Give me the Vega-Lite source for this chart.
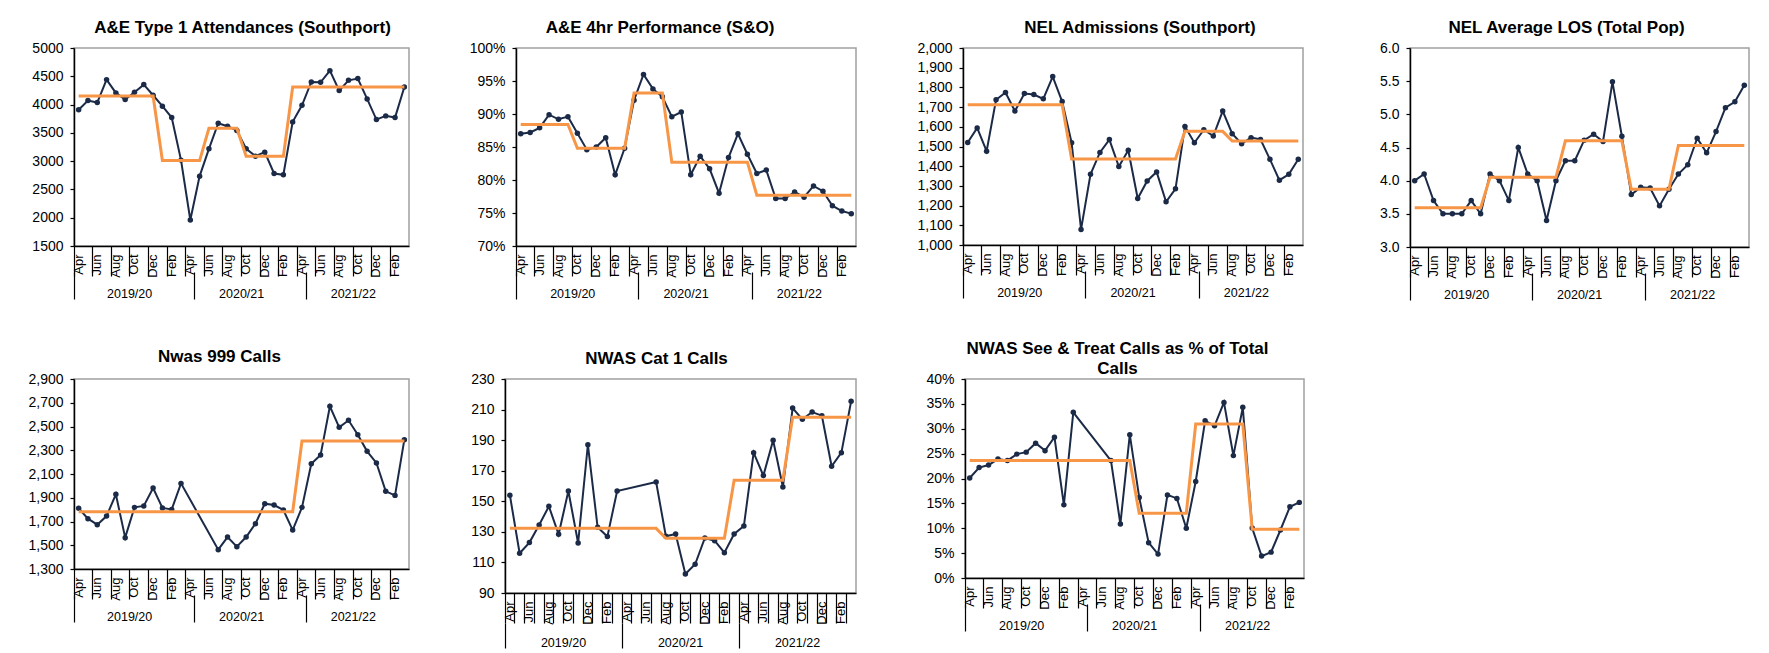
{
 "$schema": "https://vega.github.io/schema/vega-lite/v6.json",
 "padding": {"left": 27, "top": 18, "right": 5, "bottom": 5},
 "background": "white",
 "datasets": {"d": [
  {"k":0,"fy":"2019/20","ae":3910,"ae_m":4150,"perf":0.870,"perf_m":0.884,"nel":1520,"nel_m":1712,"los":4.00,"los_m":3.59,"c999":1811,"c999_m":1783,"cat1":154,"cat1_m":132.3,"st":0.201,"st_m":0.236},
  {"k":1,"fy":"2019/20","ae":4070,"ae_m":4150,"perf":0.872,"perf_m":0.884,"nel":1594,"nel_m":1712,"los":4.10,"los_m":3.59,"c999":1724,"c999_m":1783,"cat1":116,"cat1_m":132.3,"st":0.222,"st_m":0.236},
  {"k":2,"fy":"2019/20","ae":4035,"ae_m":4150,"perf":0.879,"perf_m":0.884,"nel":1476,"nel_m":1712,"los":3.70,"los_m":3.59,"c999":1673,"c999_m":1783,"cat1":123,"cat1_m":132.3,"st":0.227,"st_m":0.236},
  {"k":3,"fy":"2019/20","ae":4441,"ae_m":4150,"perf":0.899,"perf_m":0.884,"nel":1737,"nel_m":1712,"los":3.50,"los_m":3.59,"c999":1746,"c999_m":1783,"cat1":134.5,"cat1_m":132.3,"st":0.239,"st_m":0.236},
  {"k":4,"fy":"2019/20","ae":4206,"ae_m":4150,"perf":0.892,"perf_m":0.884,"nel":1774,"nel_m":1712,"los":3.50,"los_m":3.59,"c999":1929,"c999_m":1783,"cat1":146.7,"cat1_m":132.3,"st":0.236,"st_m":0.236},
  {"k":5,"fy":"2019/20","ae":4088,"ae_m":4150,"perf":0.896,"perf_m":0.884,"nel":1680,"nel_m":1712,"los":3.50,"los_m":3.59,"c999":1564,"c999_m":1783,"cat1":128.4,"cat1_m":132.3,"st":0.249,"st_m":0.236},
  {"k":6,"fy":"2019/20","ae":4218,"ae_m":4150,"perf":0.871,"perf_m":0.848,"nel":1769,"nel_m":1712,"los":3.70,"los_m":3.59,"c999":1819,"c999_m":1783,"cat1":156.7,"cat1_m":132.3,"st":0.253,"st_m":0.236},
  {"k":7,"fy":"2019/20","ae":4353,"ae_m":4150,"perf":0.846,"perf_m":0.848,"nel":1764,"nel_m":1712,"los":3.50,"los_m":3.59,"c999":1831,"c999_m":1783,"cat1":122.7,"cat1_m":132.3,"st":0.271,"st_m":0.236},
  {"k":8,"fy":"2019/20","ae":4165,"ae_m":4150,"perf":0.850,"perf_m":0.848,"nel":1742,"nel_m":1712,"los":4.10,"los_m":4.05,"c999":1982,"c999_m":1783,"cat1":187,"cat1_m":132.3,"st":0.256,"st_m":0.236},
  {"k":9,"fy":"2019/20","ae":3971,"ae_m":3010,"perf":0.864,"perf_m":0.848,"nel":1855,"nel_m":1712,"los":4.00,"los_m":4.05,"c999":1814,"c999_m":1783,"cat1":133,"cat1_m":132.3,"st":0.283,"st_m":0.236},
  {"k":10,"fy":"2019/20","ae":3771,"ae_m":3010,"perf":0.808,"perf_m":0.848,"nel":1728,"nel_m":1712,"los":3.70,"los_m":4.05,"c999":1802,"c999_m":1783,"cat1":126.9,"cat1_m":132.3,"st":0.147,"st_m":0.236},
  {"k":11,"fy":"2019/20","ae":3018,"ae_m":3010,"perf":0.848,"perf_m":0.848,"nel":1519,"nel_m":1437,"los":4.50,"los_m":4.05,"c999":2021,"c999_m":1783,"cat1":156.7,"cat1_m":132.3,"st":0.333,"st_m":0.236},
  {"k":12,"fy":"2020/21","ae":1960,"ae_m":3010,"perf":0.921,"perf_m":0.932,"nel":1079,"nel_m":1437,"los":4.10,"los_m":4.05,"c999":null,"c999_m":1783,"cat1":null,"cat1_m":132.3,"st":null,"st_m":0.236},
  {"k":13,"fy":"2020/21","ae":2735,"ae_m":3010,"perf":0.960,"perf_m":0.932,"nel":1359,"nel_m":1437,"los":4.00,"los_m":4.05,"c999":null,"c999_m":1783,"cat1":null,"cat1_m":132.3,"st":null,"st_m":0.236},
  {"k":14,"fy":"2020/21","ae":3218,"ae_m":3580,"perf":0.938,"perf_m":0.932,"nel":1470,"nel_m":1437,"los":3.40,"los_m":4.05,"c999":null,"c999_m":1783,"cat1":null,"cat1_m":132.3,"st":null,"st_m":0.236},
  {"k":15,"fy":"2020/21","ae":3671,"ae_m":3580,"perf":0.926,"perf_m":0.932,"nel":1535,"nel_m":1437,"los":4.00,"los_m":4.05,"c999":1463,"c999_m":1783,"cat1":162.6,"cat1_m":132.3,"st":0.236,"st_m":0.236},
  {"k":16,"fy":"2020/21","ae":3618,"ae_m":3580,"perf":0.896,"perf_m":0.827,"nel":1398,"nel_m":1437,"los":4.30,"los_m":4.60,"c999":1569,"c999_m":1783,"cat1":127.1,"cat1_m":125.8,"st":0.1085,"st_m":0.236},
  {"k":17,"fy":"2020/21","ae":3541,"ae_m":3580,"perf":0.903,"perf_m":0.827,"nel":1481,"nel_m":1437,"los":4.30,"los_m":4.60,"c999":1488,"c999_m":1783,"cat1":128.6,"cat1_m":125.8,"st":0.288,"st_m":0.236},
  {"k":18,"fy":"2020/21","ae":3218,"ae_m":3085,"perf":0.808,"perf_m":0.827,"nel":1236,"nel_m":1437,"los":4.61,"los_m":4.60,"c999":1569,"c999_m":1783,"cat1":102.4,"cat1_m":125.8,"st":0.162,"st_m":0.130},
  {"k":19,"fy":"2020/21","ae":3088,"ae_m":3085,"perf":0.836,"perf_m":0.827,"nel":1325,"nel_m":1437,"los":4.70,"los_m":4.60,"c999":1682,"c999_m":1783,"cat1":108.8,"cat1_m":125.8,"st":0.071,"st_m":0.130},
  {"k":20,"fy":"2020/21","ae":3159,"ae_m":3085,"perf":0.817,"perf_m":0.827,"nel":1371,"nel_m":1437,"los":4.59,"los_m":4.60,"c999":1850,"c999_m":1783,"cat1":126.0,"cat1_m":125.8,"st":0.048,"st_m":0.130},
  {"k":21,"fy":"2020/21","ae":2782,"ae_m":3085,"perf":0.780,"perf_m":0.827,"nel":1219,"nel_m":1437,"los":5.49,"los_m":4.60,"c999":1839,"c999_m":1783,"cat1":124.2,"cat1_m":125.8,"st":0.167,"st_m":0.130},
  {"k":22,"fy":"2020/21","ae":2759,"ae_m":3085,"perf":0.834,"perf_m":0.827,"nel":1285,"nel_m":1437,"los":4.67,"los_m":4.60,"c999":1797,"c999_m":1783,"cat1":116.4,"cat1_m":125.8,"st":0.160,"st_m":0.130},
  {"k":23,"fy":"2020/21","ae":3694,"ae_m":4310,"perf":0.870,"perf_m":0.827,"nel":1602,"nel_m":1577,"los":3.79,"los_m":3.87,"c999":1628,"c999_m":1783,"cat1":128.6,"cat1_m":163.7,"st":0.100,"st_m":0.130},
  {"k":24,"fy":"2021/22","ae":3988,"ae_m":4310,"perf":0.839,"perf_m":0.827,"nel":1519,"nel_m":1577,"los":3.90,"los_m":3.87,"c999":1819,"c999_m":2378,"cat1":133.8,"cat1_m":163.7,"st":0.194,"st_m":0.3095},
  {"k":25,"fy":"2021/22","ae":4400,"ae_m":4310,"perf":0.810,"perf_m":0.777,"nel":1585,"nel_m":1577,"los":3.89,"los_m":3.87,"c999":2187,"c999_m":2378,"cat1":181.8,"cat1_m":163.7,"st":0.316,"st_m":0.3095},
  {"k":26,"fy":"2021/22","ae":4394,"ae_m":4310,"perf":0.815,"perf_m":0.777,"nel":1553,"nel_m":1577,"los":3.62,"los_m":3.87,"c999":2260,"c999_m":2378,"cat1":166.8,"cat1_m":163.7,"st":0.306,"st_m":0.3095},
  {"k":27,"fy":"2021/22","ae":4600,"ae_m":4310,"perf":0.772,"perf_m":0.777,"nel":1680,"nel_m":1577,"los":3.87,"los_m":3.87,"c999":2670,"c999_m":2378,"cat1":189.9,"cat1_m":163.7,"st":0.353,"st_m":0.3095},
  {"k":28,"fy":"2021/22","ae":4247,"ae_m":4310,"perf":0.772,"perf_m":0.777,"nel":1565,"nel_m":1528,"los":4.10,"los_m":4.53,"c999":2493,"c999_m":2378,"cat1":159.3,"cat1_m":163.7,"st":0.246,"st_m":0.3095},
  {"k":29,"fy":"2021/22","ae":4429,"ae_m":4310,"perf":0.782,"perf_m":0.777,"nel":1514,"nel_m":1528,"los":4.24,"los_m":4.53,"c999":2552,"c999_m":2378,"cat1":211.0,"cat1_m":204.9,"st":0.343,"st_m":0.3095},
  {"k":30,"fy":"2021/22","ae":4459,"ae_m":4310,"perf":0.774,"perf_m":0.777,"nel":1545,"nel_m":1528,"los":4.64,"los_m":4.53,"c999":2431,"c999_m":2378,"cat1":203.6,"cat1_m":204.9,"st":0.1005,"st_m":0.098},
  {"k":31,"fy":"2021/22","ae":4100,"ae_m":4310,"perf":0.791,"perf_m":0.777,"nel":1536,"nel_m":1528,"los":4.42,"los_m":4.53,"c999":2291,"c999_m":2378,"cat1":208.4,"cat1_m":204.9,"st":0.044,"st_m":0.098},
  {"k":32,"fy":"2021/22","ae":3735,"ae_m":4310,"perf":0.783,"perf_m":0.777,"nel":1435,"nel_m":1528,"los":4.74,"los_m":4.53,"c999":2193,"c999_m":2378,"cat1":206.0,"cat1_m":204.9,"st":0.052,"st_m":0.098},
  {"k":33,"fy":"2021/22","ae":3800,"ae_m":4310,"perf":0.761,"perf_m":0.777,"nel":1329,"nel_m":1528,"los":5.10,"los_m":4.53,"c999":1954,"c999_m":2378,"cat1":172.9,"cat1_m":204.9,"st":0.0965,"st_m":0.098},
  {"k":34,"fy":"2021/22","ae":3771,"ae_m":4310,"perf":0.753,"perf_m":0.777,"nel":1359,"nel_m":1528,"los":5.19,"los_m":4.53,"c999":1920,"c999_m":2378,"cat1":181.8,"cat1_m":204.9,"st":0.143,"st_m":0.098},
  {"k":35,"fy":"2021/22","ae":4312,"ae_m":4310,"perf":0.749,"perf_m":0.777,"nel":1435,"nel_m":1528,"los":5.44,"los_m":4.53,"c999":2389,"c999_m":2378,"cat1":215.4,"cat1_m":204.9,"st":0.152,"st_m":0.098}
 ]},
 "data": {"name": "d"},
 "spacing": 37,
 "vconcat": [
  {"hconcat": [
   {"width": 335, "height": 198,
    "title": {"text": "A&E Type 1 Attendances (Southport)", "dx": 1, "offset": 4},
    "layer": [
     {"mark": {"type": "rule", "opacity": 0}, "encoding": {"x": {"field": "k", "type": "ordinal", "title": null, "scale": {"type": "band", "paddingInner": 0, "paddingOuter": 0}, "axis": {"orient": "bottom", "offset": 26, "domain": false, "values": [0,13,25], "labelExpr": "datum.value == 0 ? '2019/20' : datum.value == 13 ? '2020/21' : '2021/22'", "labelOffset": {"condition": {"test": "datum.value == 0", "value": 51}, "value": 42}, "bandPosition": 0, "tickSize": 27, "labelPadding": -12, "labelFontSize": 12.5, "labelAngle": 0, "labelOverlap": false}}}},
     {"layer": [
      {"transform": [{"filter": "isValid(datum.ae)"}], "mark": {"type": "line", "color": "#1b2a47", "strokeWidth": 2, "point": {"filled": true, "size": 30, "color": "#1b2a47"}},
       "encoding": {"x": {"field": "k", "type": "ordinal", "title": null, "scale": {"type": "band", "paddingInner": 0, "paddingOuter": 0}, "axis": {"orient": "bottom", "values": [0,2,4,6,8,10,12,14,16,18,20,22,24,26,28,30,32,34], "labelExpr": "['Apr','May','Jun','Jul','Aug','Sep','Oct','Nov','Dec','Jan','Feb','Mar'][datum.value % 12]", "labelAngle": -90, "labelFontSize": 13, "labelPadding": -22, "tickSize": 30, "bandPosition": 0, "labelOverlap": false}},
        "y": {"field": "ae", "type": "quantitative", "title": null, "scale": {"domain": [1500, 5000], "nice": false, "zero": false}, "axis": {"values": [1500,2000,2500,3000,3500,4000,4500,5000], "tickCount": 50, "format": "d", "labelOverlap": false}}}},
      {"mark": {"type": "line", "color": "#f79646", "strokeWidth": 3}, "encoding": {"x": {"field": "k", "type": "ordinal", "title": null}, "y": {"field": "ae_m", "type": "quantitative", "title": null}}}
     ]}
    ],
    "resolve": {"scale": {"x": "independent"}, "axis": {"x": "independent"}}
   },
   {"width": 340, "height": 198,
    "title": {"text": "A&E 4hr Performance (S&O)", "dx": -26, "offset": 4},
    "layer": [
     {"mark": {"type": "rule", "opacity": 0}, "encoding": {"x": {"field": "k", "type": "ordinal", "title": null, "scale": {"type": "band", "paddingInner": 0, "paddingOuter": 0}, "axis": {"orient": "bottom", "offset": 26, "domain": false, "values": [0,13,25], "labelExpr": "datum.value == 0 ? '2019/20' : datum.value == 13 ? '2020/21' : '2021/22'", "labelOffset": {"condition": {"test": "datum.value == 0", "value": 52}, "value": 42.5}, "bandPosition": 0, "tickSize": 27, "labelPadding": -12, "labelFontSize": 12.5, "labelAngle": 0, "labelOverlap": false}}}},
     {"layer": [
      {"transform": [{"filter": "isValid(datum.perf)"}], "mark": {"type": "line", "color": "#1b2a47", "strokeWidth": 2, "point": {"filled": true, "size": 30, "color": "#1b2a47"}},
       "encoding": {"x": {"field": "k", "type": "ordinal", "title": null, "scale": {"type": "band", "paddingInner": 0, "paddingOuter": 0}, "axis": {"orient": "bottom", "values": [0,2,4,6,8,10,12,14,16,18,20,22,24,26,28,30,32,34], "labelExpr": "['Apr','May','Jun','Jul','Aug','Sep','Oct','Nov','Dec','Jan','Feb','Mar'][datum.value % 12]", "labelAngle": -90, "labelFontSize": 13, "labelPadding": -22, "tickSize": 30, "bandPosition": 0, "labelOverlap": false}},
        "y": {"field": "perf", "type": "quantitative", "title": null, "scale": {"domain": [0.7, 1.0], "nice": false, "zero": false}, "axis": {"values": [0.7,0.75,0.8,0.85,0.9,0.95,1.0], "tickCount": 50, "format": ".0%", "labelOverlap": false}}}},
      {"mark": {"type": "line", "color": "#f79646", "strokeWidth": 3}, "encoding": {"x": {"field": "k", "type": "ordinal", "title": null}, "y": {"field": "perf_m", "type": "quantitative", "title": null}}}
     ]}
    ],
    "resolve": {"scale": {"x": "independent"}, "axis": {"x": "independent"}}
   },
   {"width": 340, "height": 197,
    "title": {"text": "NEL Admissions (Southport)", "dx": 7, "offset": 4},
    "layer": [
     {"mark": {"type": "rule", "opacity": 0}, "encoding": {"x": {"field": "k", "type": "ordinal", "title": null, "scale": {"type": "band", "paddingInner": 0, "paddingOuter": 0}, "axis": {"orient": "bottom", "offset": 26, "domain": false, "values": [0,13,25], "labelExpr": "datum.value == 0 ? '2019/20' : datum.value == 13 ? '2020/21' : '2021/22'", "labelOffset": {"condition": {"test": "datum.value == 0", "value": 52}, "value": 42.5}, "bandPosition": 0, "tickSize": 27, "labelPadding": -12, "labelFontSize": 12.5, "labelAngle": 0, "labelOverlap": false}}}},
     {"layer": [
      {"transform": [{"filter": "isValid(datum.nel)"}], "mark": {"type": "line", "color": "#1b2a47", "strokeWidth": 2, "point": {"filled": true, "size": 30, "color": "#1b2a47"}},
       "encoding": {"x": {"field": "k", "type": "ordinal", "title": null, "scale": {"type": "band", "paddingInner": 0, "paddingOuter": 0}, "axis": {"orient": "bottom", "values": [0,2,4,6,8,10,12,14,16,18,20,22,24,26,28,30,32,34], "labelExpr": "['Apr','May','Jun','Jul','Aug','Sep','Oct','Nov','Dec','Jan','Feb','Mar'][datum.value % 12]", "labelAngle": -90, "labelFontSize": 13, "labelPadding": -22, "tickSize": 30, "bandPosition": 0, "labelOverlap": false}},
        "y": {"field": "nel", "type": "quantitative", "title": null, "scale": {"domain": [1000, 2000], "nice": false, "zero": false}, "axis": {"values": [1000,1100,1200,1300,1400,1500,1600,1700,1800,1900,2000], "tickCount": 50, "format": ",d", "labelOverlap": false}}}},
      {"mark": {"type": "line", "color": "#f79646", "strokeWidth": 3}, "encoding": {"x": {"field": "k", "type": "ordinal", "title": null}, "y": {"field": "nel_m", "type": "quantitative", "title": null}}}
     ]}
    ],
    "resolve": {"scale": {"x": "independent"}, "axis": {"x": "independent"}}
   },
   {"width": 339, "height": 199,
    "title": {"text": "NEL Average LOS (Total Pop)", "dx": -13, "offset": 4},
    "layer": [
     {"mark": {"type": "rule", "opacity": 0}, "encoding": {"x": {"field": "k", "type": "ordinal", "title": null, "scale": {"type": "band", "paddingInner": 0, "paddingOuter": 0}, "axis": {"orient": "bottom", "offset": 26, "domain": false, "values": [0,13,25], "labelExpr": "datum.value == 0 ? '2019/20' : datum.value == 13 ? '2020/21' : '2021/22'", "labelOffset": {"condition": {"test": "datum.value == 0", "value": 52}, "value": 42.5}, "bandPosition": 0, "tickSize": 27, "labelPadding": -12, "labelFontSize": 12.5, "labelAngle": 0, "labelOverlap": false}}}},
     {"layer": [
      {"transform": [{"filter": "isValid(datum.los)"}], "mark": {"type": "line", "color": "#1b2a47", "strokeWidth": 2, "point": {"filled": true, "size": 30, "color": "#1b2a47"}},
       "encoding": {"x": {"field": "k", "type": "ordinal", "title": null, "scale": {"type": "band", "paddingInner": 0, "paddingOuter": 0}, "axis": {"orient": "bottom", "values": [0,2,4,6,8,10,12,14,16,18,20,22,24,26,28,30,32,34], "labelExpr": "['Apr','May','Jun','Jul','Aug','Sep','Oct','Nov','Dec','Jan','Feb','Mar'][datum.value % 12]", "labelAngle": -90, "labelFontSize": 13, "labelPadding": -22, "tickSize": 30, "bandPosition": 0, "labelOverlap": false}},
        "y": {"field": "los", "type": "quantitative", "title": null, "scale": {"domain": [3, 6], "nice": false, "zero": false}, "axis": {"values": [3,3.5,4,4.5,5,5.5,6], "tickCount": 50, "format": ".1f", "labelOverlap": false}}}},
      {"mark": {"type": "line", "color": "#f79646", "strokeWidth": 3}, "encoding": {"x": {"field": "k", "type": "ordinal", "title": null}, "y": {"field": "los_m", "type": "quantitative", "title": null}}}
     ]}
    ],
    "resolve": {"scale": {"x": "independent"}, "axis": {"x": "independent"}}
   }
  ], "spacing": 107, "bounds": "flush"},
  {"hconcat": [
   {"width": 335, "height": 190,
    "title": {"text": "Nwas 999 Calls", "dx": -22, "offset": 6},
    "layer": [
     {"mark": {"type": "rule", "opacity": 0}, "encoding": {"x": {"field": "k", "type": "ordinal", "title": null, "scale": {"type": "band", "paddingInner": 0, "paddingOuter": 0}, "axis": {"orient": "bottom", "offset": 26, "domain": false, "values": [0,13,25], "labelExpr": "datum.value == 0 ? '2019/20' : datum.value == 13 ? '2020/21' : '2021/22'", "labelOffset": {"condition": {"test": "datum.value == 0", "value": 51}, "value": 42}, "bandPosition": 0, "tickSize": 27, "labelPadding": -12, "labelFontSize": 12.5, "labelAngle": 0, "labelOverlap": false}}}},
     {"layer": [
      {"transform": [{"filter": "isValid(datum.c999)"}], "mark": {"type": "line", "color": "#1b2a47", "strokeWidth": 2, "point": {"filled": true, "size": 30, "color": "#1b2a47"}},
       "encoding": {"x": {"field": "k", "type": "ordinal", "title": null, "scale": {"type": "band", "paddingInner": 0, "paddingOuter": 0, "domain": [0,1,2,3,4,5,6,7,8,9,10,11,12,13,14,15,16,17,18,19,20,21,22,23,24,25,26,27,28,29,30,31,32,33,34,35]}, "axis": {"orient": "bottom", "values": [0,2,4,6,8,10,12,14,16,18,20,22,24,26,28,30,32,34], "labelExpr": "['Apr','May','Jun','Jul','Aug','Sep','Oct','Nov','Dec','Jan','Feb','Mar'][datum.value % 12]", "labelAngle": -90, "labelFontSize": 13, "labelPadding": -22, "tickSize": 30, "bandPosition": 0, "labelOverlap": false}},
        "y": {"field": "c999", "type": "quantitative", "title": null, "scale": {"domain": [1300, 2900], "nice": false, "zero": false}, "axis": {"values": [1300,1500,1700,1900,2100,2300,2500,2700,2900], "tickCount": 50, "format": ",d", "labelOverlap": false}}}},
      {"mark": {"type": "line", "color": "#f79646", "strokeWidth": 3}, "encoding": {"x": {"field": "k", "type": "ordinal", "title": null}, "y": {"field": "c999_m", "type": "quantitative", "title": null}}}
     ]}
    ],
    "resolve": {"scale": {"x": "independent"}, "axis": {"x": "independent"}}
   },
   {"hconcat": [
    {"width": 351, "height": 214,
     "title": {"text": "NWAS Cat 1 Calls", "dx": -24, "offset": 4},
     "layer": [
      {"mark": {"type": "rule", "opacity": 0}, "encoding": {"x": {"field": "fy", "type": "nominal", "title": null, "scale": {"type": "band", "paddingInner": 0, "paddingOuter": 0}, "axis": {"orient": "bottom", "offset": 30, "domain": false, "bandPosition": 0, "tickSize": 25, "labelPadding": -12, "labelFontSize": 12.5, "labelAngle": 0}}}},
      {"layer": [
       {"transform": [{"filter": "isValid(datum.cat1)"}], "mark": {"type": "line", "color": "#1b2a47", "strokeWidth": 2, "point": {"filled": true, "size": 30, "color": "#1b2a47"}},
        "encoding": {"x": {"field": "k", "type": "ordinal", "title": null, "scale": {"type": "band", "paddingInner": 0, "paddingOuter": 0, "domain": [0,1,2,3,4,5,6,7,8,9,10,11,12,13,14,15,16,17,18,19,20,21,22,23,24,25,26,27,28,29,30,31,32,33,34,35]}, "axis": {"orient": "bottom", "values": [0,1,2,3,4,5,6,7,8,9,10,11,12,13,14,15,16,17,18,19,20,21,22,23,24,25,26,27,28,29,30,31,32,33,34,35], "labelExpr": "datum.value % 2 == 0 ? ['Apr','May','Jun','Jul','Aug','Sep','Oct','Nov','Dec','Jan','Feb','Mar'][datum.value % 12] : ''", "labelAngle": -90, "labelFontSize": 13, "labelPadding": -22, "tickSize": 30, "bandPosition": 0, "labelOverlap": false}},
         "y": {"field": "cat1", "type": "quantitative", "title": null, "scale": {"domain": [90, 230], "nice": false, "zero": false}, "axis": {"values": [90,110,130,150,170,190,210,230], "tickCount": 50, "format": "d", "labelOverlap": false}}}},
       {"mark": {"type": "line", "color": "#f79646", "strokeWidth": 3}, "encoding": {"x": {"field": "k", "type": "ordinal", "title": null}, "y": {"field": "cat1_m", "type": "quantitative", "title": null}}}
      ]}
     ],
     "resolve": {"scale": {"x": "independent"}, "axis": {"x": "independent"}}
    },
    {"width": 339, "height": 199,
     "title": {"text": ["NWAS See & Treat Calls as % of Total", "Calls"], "dx": -17, "offset": -6, "lineHeight": 20},
     "layer": [
      {"mark": {"type": "rule", "opacity": 0}, "encoding": {"x": {"field": "k", "type": "ordinal", "title": null, "scale": {"type": "band", "paddingInner": 0, "paddingOuter": 0}, "axis": {"orient": "bottom", "offset": 26, "domain": false, "values": [0,13,25], "labelExpr": "datum.value == 0 ? '2019/20' : datum.value == 13 ? '2020/21' : '2021/22'", "labelOffset": {"condition": {"test": "datum.value == 0", "value": 52}, "value": 42.5}, "bandPosition": 0, "tickSize": 27, "labelPadding": -12, "labelFontSize": 12.5, "labelAngle": 0, "labelOverlap": false}}}},
      {"layer": [
       {"transform": [{"filter": "isValid(datum.st)"}], "mark": {"type": "line", "color": "#1b2a47", "strokeWidth": 2, "point": {"filled": true, "size": 30, "color": "#1b2a47"}},
        "encoding": {"x": {"field": "k", "type": "ordinal", "title": null, "scale": {"type": "band", "paddingInner": 0, "paddingOuter": 0, "domain": [0,1,2,3,4,5,6,7,8,9,10,11,12,13,14,15,16,17,18,19,20,21,22,23,24,25,26,27,28,29,30,31,32,33,34,35]}, "axis": {"orient": "bottom", "values": [0,2,4,6,8,10,12,14,16,18,20,22,24,26,28,30,32,34], "labelExpr": "['Apr','May','Jun','Jul','Aug','Sep','Oct','Nov','Dec','Jan','Feb','Mar'][datum.value % 12]", "labelAngle": -90, "labelFontSize": 13, "labelPadding": -22, "tickSize": 30, "bandPosition": 0, "labelOverlap": false}},
         "y": {"field": "st", "type": "quantitative", "title": null, "scale": {"domain": [0, 0.4], "nice": false, "zero": false}, "axis": {"values": [0,0.05,0.1,0.15,0.2,0.25,0.3,0.35,0.4], "tickCount": 50, "format": ".0%", "labelOverlap": false}}}},
       {"mark": {"type": "line", "color": "#f79646", "strokeWidth": 3}, "encoding": {"x": {"field": "k", "type": "ordinal", "title": null}, "y": {"field": "st_m", "type": "quantitative", "title": null}}}
      ]}
     ],
     "resolve": {"scale": {"x": "independent"}, "axis": {"x": "independent"}}
    }
   ], "spacing": 109, "bounds": "flush"}
  ], "spacing": 57}
 ],
 "config": {
  "font": "Liberation Sans",
  "view": {"stroke": "#a0a0a0", "strokeWidth": 1.5},
  "axis": {"grid": false, "domainColor": "#000000", "domainWidth": 1.5, "tickColor": "#000000", "tickWidth": 1.2, "labelColor": "#000000", "labelFont": "Liberation Sans"},
  "axisY": {"tickSize": 4, "labelPadding": 7, "labelFontSize": 14, "labelOverlap": false},
  "title": {"font": "Liberation Sans", "fontSize": 17, "fontWeight": "bold", "color": "#000000", "offset": 14}
 }
}
